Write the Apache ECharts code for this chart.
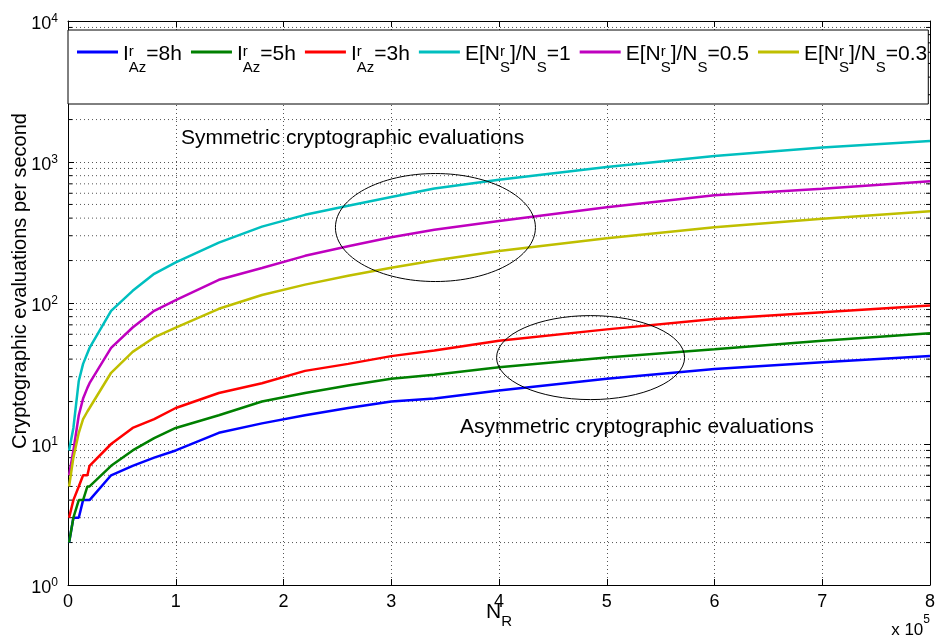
<!DOCTYPE html>
<html>
<head>
<meta charset="utf-8">
<script src="https://cdn.jsdelivr.net/npm/echarts@6/dist/echarts.min.js"></script>
<style>
  html, body { margin: 0; padding: 0; background: #fff; }
  #chart { width: 936px; height: 641px; }
</style>
</head>
<body>
<div id="chart"></div>
<script>
// N_R, in units of 1e5
const nrValues = [0.01, 0.05, 0.1, 0.14, 0.18, 0.2, 0.4, 0.6, 0.8, 1.0, 1.4, 1.8, 2.2, 2.6, 3.0, 3.4, 4.0, 5.0, 6.0, 7.0, 8.0];

// asymmetric evaluations per second
const iaz8h = [2, 3, 3, 4, 4, 4, 6, 7, 8, 9, 12, 14, 16, 18, 20, 21, 24, 29, 34, 38, 42];
const iaz5h = [2, 3, 4, 4, 5, 5, 7, 9, 11, 13, 16, 20, 23, 26, 29, 31, 35, 41, 47, 54, 61];
const iaz3h = [3, 4, 5, 6, 6, 7, 10, 13, 15, 18, 23, 27, 33, 37, 42, 46, 54, 65, 77, 86, 96];

// symmetric evaluations per second
const ratio1 = [9, 13, 28, 37, 44, 48, 88, 122, 161, 194, 268, 348, 422, 489, 564, 649, 747, 921, 1104, 1266, 1410];
const ratio05 = [6, 9, 16, 21, 25, 27, 48, 67, 88, 105, 146, 177, 216, 253, 293, 331, 381, 478, 580, 647, 729];
const ratio03 = [5, 8, 12, 15, 17, 18, 32, 45, 57, 67, 91, 114, 135, 156, 178, 200, 234, 288, 345, 396, 448];

const seriesNames = ['I8', 'I5', 'I3', 'E1', 'E05', 'E03'];
const seriesValues = [iaz8h, iaz5h, iaz3h, ratio1, ratio05, ratio03];
const seriesColors = ['#0000ff', '#008000', '#ff0000', '#00bfbf', '#bf00bf', '#bfbf00'];

// legend text with sub/superscripts
const legendLabels = {
  I8: '{m|I}{sup|r}{sub|Az}{m|=8h}',
  I5: '{m|I}{sup|r}{sub|Az}{m|=5h}',
  I3: '{m|I}{sup|r}{sub|Az}{m|=3h}',
  E1: '{m|E[N}{sup|r}{sub|S}{m|]/N}{sub|S}{m|=1}',
  E05: '{m|E[N}{sup|r}{sub|S}{m|]/N}{sub|S}{m|=0.5}',
  E03: '{m|E[N}{sup|r}{sub|S}{m|]/N}{sub|S}{m|=0.3}'
};

// minor grid values of the log axis
const minorTicks = [2, 3, 4, 5, 6, 7, 8, 9, 20, 30, 40, 50, 60, 70, 80, 90,
  200, 300, 400, 500, 600, 700, 800, 900, 2000, 3000, 4000, 5000, 6000, 7000, 8000, 9000];

// ellipse centres [N_R, value]
const ellipseCentres = [[3.41, 343], [4.85, 41]];
const ellipseRadii = [[100, 54], [94, 42]];

const X_MIN = 0;
const X_MAX = 8;

const chart = echarts.init(document.getElementById('chart'));

const lineSeries = seriesNames.map((name, i) => ({
  name: name,
  type: 'line',
  symbol: 'none',
  z: 3,
  lineStyle: { color: seriesColors[i], width: 2.5 },
  itemStyle: { color: seriesColors[i] },
  data: nrValues.map((x, j) => [x, seriesValues[i][j]])
}));

const option = {
  animation: false,
  backgroundColor: '#fff',
  textStyle: { fontFamily: 'Liberation Sans, Arial, sans-serif', color: '#000' },
  grid: { left: 68, right: 6, top: 21, bottom: 56, outerBoundsMode: 'none' },
  legend: {
    data: seriesNames,
    left: 68,
    top: 30,
    width: 900,
    padding: [14, 1, 15, 9],
    icon: 'rect',
    itemWidth: 41,
    itemHeight: 3,
    itemGap: 9,
    backgroundColor: '#fff',
    borderColor: '#000',
    borderWidth: 1,
    borderRadius: 0,
    formatter: name => legendLabels[name],
    textStyle: {
      color: '#000',
      rich: {
        m: { fontSize: 21, lineHeight: 16, verticalAlign: 'top', padding: [0, 0, 24, 0] },
        sup: { fontSize: 15, lineHeight: 4, verticalAlign: 'top', width: 0 },
        sub: { fontSize: 15, lineHeight: 10, verticalAlign: 'top', padding: [16, 0, 0, 0] }
      }
    }
  },
  xAxis: [
    {
      type: 'value',
      min: X_MIN,
      max: X_MAX,
      interval: 1,
      name: '{n|N}{r|R}',
      nameLocation: 'middle',
      nameGap: 17,
      nameMoveOverlap: false,
      nameTextStyle: {
        rich: {
          n: { fontSize: 21, lineHeight: 20, verticalAlign: 'top' },
          r: { fontSize: 15, lineHeight: 12, verticalAlign: 'top', padding: [12, 0, 0, 0] }
        }
      },
      axisLine: { show: true, lineStyle: { color: '#000', width: 1 } },
      axisTick: { inside: true, length: 6, lineStyle: { color: '#000' } },
      axisLabel: { fontSize: 18, color: '#000', margin: 8 },
      splitLine: { show: true, lineStyle: { color: '#555', type: [1, 3], width: 1 } }
    },
    {
      type: 'value',
      position: 'top',
      min: X_MIN,
      max: X_MAX,
      interval: 1,
      axisLine: { show: true, onZero: false, lineStyle: { color: '#000', width: 1 } },
      axisTick: { inside: true, length: 6, lineStyle: { color: '#000' } },
      axisLabel: { show: false },
      splitLine: { show: false }
    }
  ],
  yAxis: [
    {
      type: 'log',
      logBase: 10,
      min: 1,
      max: 10000,
      name: 'Cryptographic evaluations per second',
      nameLocation: 'middle',
      nameGap: 38,
      nameMoveOverlap: false,
      nameTextStyle: { fontSize: 20, color: '#000', padding: [0, 0, 0, 44] },
      axisLine: { show: true, lineStyle: { color: '#000', width: 1 } },
      axisTick: { inside: true, length: 6, lineStyle: { color: '#000' } },
      axisLabel: {
        margin: 10,
        formatter: v => '{b|10}{e|' + Math.round(Math.log10(v)) + '}',
        rich: {
          b: { fontSize: 18, lineHeight: 18, verticalAlign: 'top', padding: [3, 0, 0, 0], color: '#000' },
          e: { fontSize: 12, lineHeight: 12, verticalAlign: 'top', padding: [1, 0, 0, 0], color: '#000' }
        }
      },
      splitLine: { show: true, lineStyle: { color: '#555', type: [1, 3], width: 1 } }
    },
    {
      type: 'log',
      logBase: 10,
      min: 1,
      max: 10000,
      position: 'right',
      axisLine: { show: true, onZero: false, lineStyle: { color: '#000', width: 1 } },
      axisTick: { inside: true, length: 6, lineStyle: { color: '#000' } },
      axisLabel: { show: false },
      splitLine: { show: false }
    }
  ],
  graphic: [
    {
      type: 'text', left: 181, top: 128, z: 10,
      style: { text: 'Symmetric cryptographic evaluations', font: '21px "Liberation Sans", Arial', fill: '#000' }
    },
    {
      type: 'text', left: 460, top: 417, z: 10,
      style: { text: 'Asymmetric cryptographic evaluations', font: '21px "Liberation Sans", Arial', fill: '#000' }
    },
    {
      type: 'text', right: 6, top: 614, z: 10,
      style: {
        text: '{a|x 10}{b|5}',
        rich: {
          a: { fontSize: 17, fontFamily: 'Liberation Sans', lineHeight: 14, verticalAlign: 'top', padding: [8, 0, 0, 0], fill: '#000' },
          b: { fontSize: 12, fontFamily: 'Liberation Sans', lineHeight: 12, verticalAlign: 'top', fill: '#000' }
        }
      }
    }
  ],
  series: [
    {
      // minor grid lines and minor ticks of the log axis
      type: 'custom',
      silent: true,
      z: 1,
      data: minorTicks.map(v => [X_MIN, v]),
      renderItem: (params, api) => {
        const v = api.value(1);
        const a = api.coord([X_MIN, v]);
        const b = api.coord([X_MAX, v]);
        return {
          type: 'group',
          children: [
            { type: 'line', shape: { x1: a[0], y1: a[1], x2: b[0], y2: b[1] },
              style: { stroke: '#555', lineWidth: 1, lineDash: [1, 3] } },
            { type: 'line', shape: { x1: a[0], y1: a[1], x2: a[0] + 4, y2: a[1] },
              style: { stroke: '#000', lineWidth: 1 } },
            { type: 'line', shape: { x1: b[0] - 4, y1: b[1], x2: b[0], y2: b[1] },
              style: { stroke: '#000', lineWidth: 1 } }
          ]
        };
      }
    },
    ...lineSeries,
    {
      type: 'custom',
      silent: true,
      z: 5,
      data: ellipseCentres,
      renderItem: (params, api) => {
        const c = api.coord([api.value(0), api.value(1)]);
        const r = ellipseRadii[params.dataIndex];
        return {
          type: 'ellipse',
          shape: { cx: c[0], cy: c[1], rx: r[0], ry: r[1] },
          style: { fill: 'none', stroke: '#000', lineWidth: 1 }
        };
      }
    }
  ]
};

chart.setOption(option);
</script>
</body>
</html>
